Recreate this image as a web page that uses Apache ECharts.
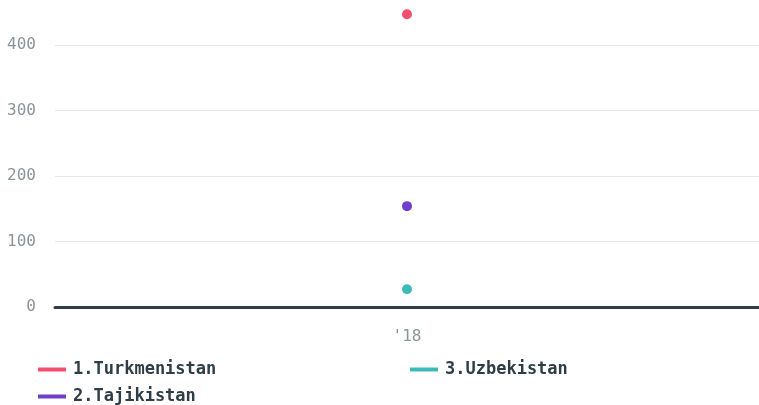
<!DOCTYPE html>
<html><head><meta charset="utf-8">
<script src="https://cdn.jsdelivr.net/npm/echarts@6/dist/echarts.min.js"></script>
<style>html,body{margin:0;padding:0;background:#fff}#c{width:759px;height:405px}</style>
</head><body><div id="c"></div>
<script>
var categories = ["'18"];
var seriesNames = ["1.Turkmenistan", "2.Tajikistan", "3.Uzbekistan"];
var turkmenistan = [447];
var tajikistan = [154];
var uzbekistan = [27];
var yTicks = [0, 100, 200, 300, 400];

var colors = ["#f0506e", "#6f3ecb", "#3bbab8"];
var values = [turkmenistan, tajikistan, uzbekistan];
var legendPos = [[38, 361], [38, 388], [410, 361]];
var chart = echarts.init(document.getElementById('c'), null, {renderer: 'canvas'});
var legendText = {fontFamily: 'DejaVu Sans Mono', fontWeight: 'bold', fontSize: 17, color: '#2f3e46', padding: [0, 0, 0, 2]};
chart.setOption({
  animation: false,
  grid: {left: 55, right: 0, top: 45, bottom: 98, containLabel: false},
  legend: seriesNames.map(function (n, i) {
    return {data: [n], left: legendPos[i][0], top: legendPos[i][1], padding: 0,
      itemWidth: 28, itemHeight: 4, icon: 'rect', textStyle: legendText};
  }),
  xAxis: {
    type: 'category', data: categories, boundaryGap: true,
    axisLine: {lineStyle: {color: '#2f3e46', width: 3}},
    axisTick: {show: false},
    axisLabel: {color: '#8a9499', fontFamily: 'DejaVu Sans Mono', fontSize: 16, margin: 22}
  },
  yAxis: {
    type: 'value', min: yTicks[0], max: yTicks[yTicks.length - 1], interval: 100,
    axisLine: {show: false}, axisTick: {show: false},
    axisLabel: {color: '#8a9499', fontFamily: 'DejaVu Sans Mono', fontSize: 16, margin: 19, padding: [3, 0, 0, 0]},
    splitLine: {lineStyle: {color: '#e8e8e8', width: 1}}
  },
  series: seriesNames.map(function (n, i) {
    return {
      name: n, type: 'line', data: values[i], clip: false,
      symbol: 'circle', symbolSize: 10, showSymbol: true,
      itemStyle: {color: colors[i]},
      lineStyle: {color: colors[i], width: 3}
    };
  })
});
</script></body></html>
